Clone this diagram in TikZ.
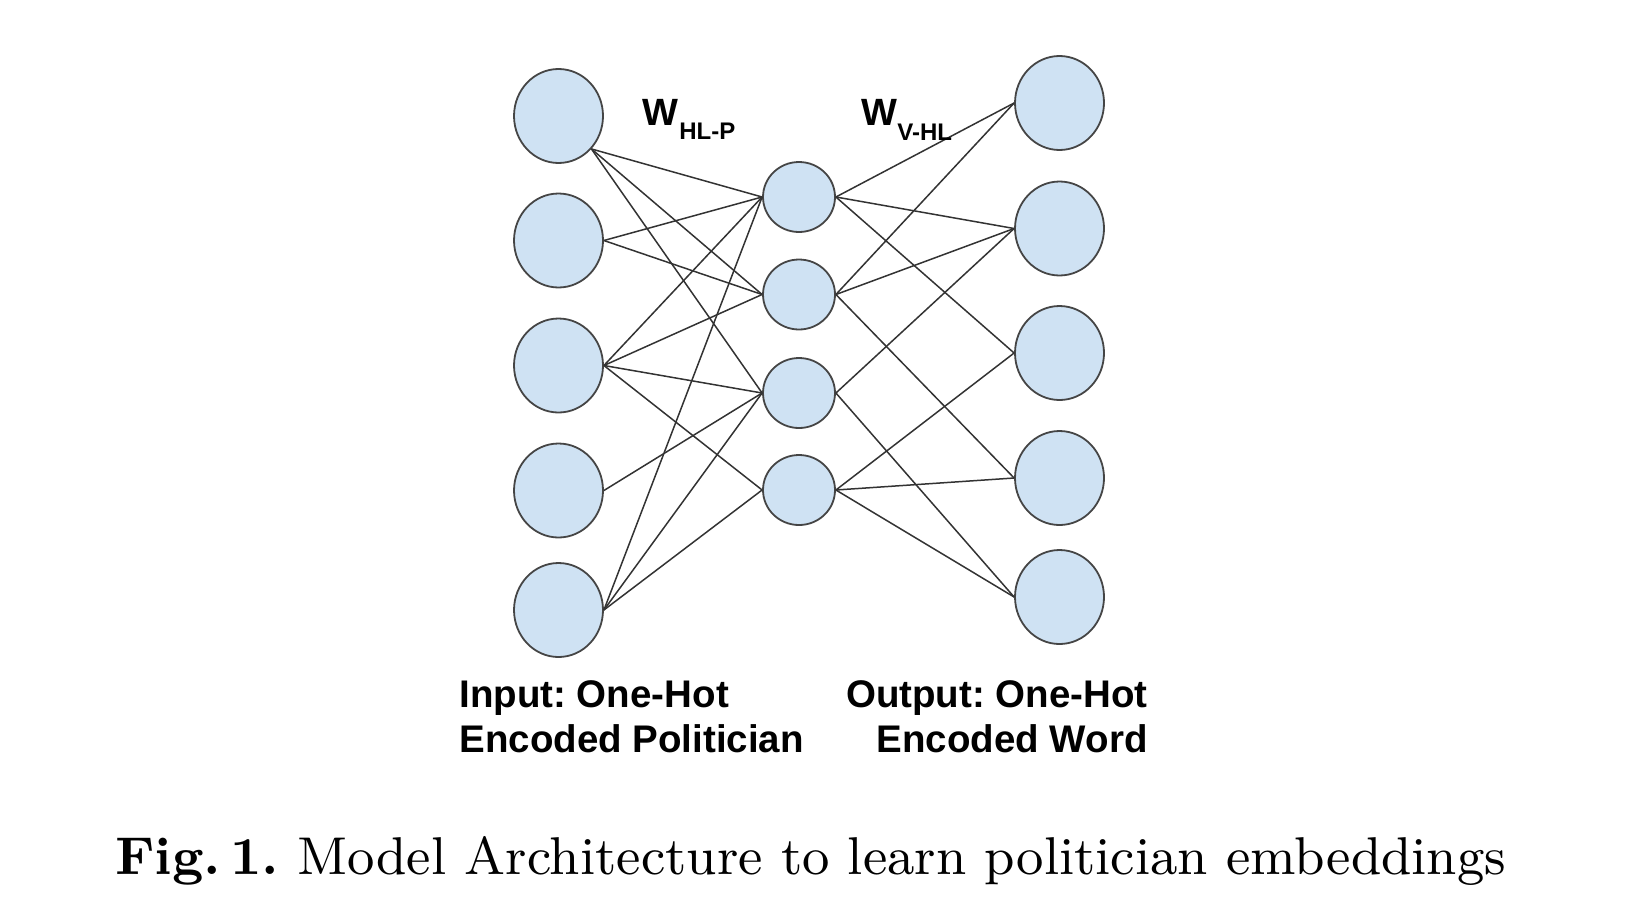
\documentclass[tikz,border=0pt]{standalone}
\usepackage{fontspec}
\newfontfamily\lsans{Liberation Sans}
\newfontfamily\capfont{lmroman9-regular}[Extension=.otf, BoldFont=lmroman9-bold]
\usetikzlibrary{shapes.geometric}
\definecolor{nodefill}{HTML}{CFE2F3}
\definecolor{nodeline}{HTML}{454545}
\definecolor{edgecol}{HTML}{333333}
\frenchspacing
\tikzset{
  bignode/.style={ellipse, draw=nodeline, fill=nodefill, line width=0.9pt, minimum width=44.5pt, minimum height=47pt, inner sep=0pt},
  smallnode/.style={ellipse, draw=nodeline, fill=nodefill, line width=0.9pt, minimum width=36pt, minimum height=35pt, inner sep=0pt},
  edge/.style={draw=edgecol, line width=0.75pt},
  lbl/.style={font=\lsans\bfseries\fontsize{19.25}{22}\selectfont\frenchspacing, inner sep=0pt},
  wlbl/.style={font=\lsans\bfseries\fontsize{19}{22}\selectfont, inner sep=0pt},
  sublbl/.style={font=\lsans\bfseries\fontsize{12}{14}\selectfont, inner sep=0pt},
  caplbl/.style={font=\capfont\fontsize{26.6}{31}\selectfont, inner sep=0pt}
}
\begin{document}
\begin{tikzpicture}[x=0.5pt,y=-0.5pt]
\useasboundingbox (0,0) rectangle (1636,916);
% input layer
\node[bignode] (L1) at (558.5,116) {};
\node[bignode] (L2) at (558.5,240.5) {};
\node[bignode] (L3) at (558.5,365.5) {};
\node[bignode] (L4) at (558.5,490.5) {};
\node[bignode] (L5) at (558.5,610) {};
% hidden layer
\node[smallnode] (M1) at (799,197) {};
\node[smallnode] (M2) at (799,294.5) {};
\node[smallnode] (M3) at (799,393) {};
\node[smallnode] (M4) at (799,490) {};
% output layer
\node[bignode] (R1) at (1059.5,103) {};
\node[bignode] (R2) at (1059.5,228.5) {};
\node[bignode] (R3) at (1059.5,353) {};
\node[bignode] (R4) at (1059.5,478) {};
\node[bignode] (R5) at (1059.5,597) {};
% left edges
\foreach \m in {M1,M2,M3} \draw[edge] (L1.-45) -- (\m.west);
\foreach \m in {M1,M2} \draw[edge] (L2.east) -- (\m.west);
\foreach \m in {M1,M2,M3,M4} \draw[edge] (L3.east) -- (\m.west);
\draw[edge] (L4.east) -- (M3.west);
\foreach \m in {M1,M3,M4} \draw[edge] (L5.east) -- (\m.west);
% right edges
\foreach \r in {R1,R2,R3} \draw[edge] (M1.east) -- (\r.west);
\foreach \r in {R1,R2,R4} \draw[edge] (M2.east) -- (\r.west);
\foreach \r in {R2,R5} \draw[edge] (M3.east) -- (\r.west);
\foreach \r in {R3,R4,R5} \draw[edge] (M4.east) -- (\r.west);
% weight labels
\node[wlbl, anchor=base west] (W1) at (642,125) {W};
\node[sublbl, anchor=base west] (W1s) at (679,139) {HL-P};
\node[wlbl, anchor=base west] (W2) at (861,125) {W};
\node[sublbl, anchor=base west] (W2s) at (897,140) {V-HL};
% layer labels
\node[lbl, anchor=base west] (in1) at (459,707) {Input: One-Hot};
\node[lbl, anchor=base west] (in2) at (459,752) {Encoded Politician};
\node[lbl, anchor=base east] (out1) at (1148,707) {Output: One-Hot};
\node[lbl, anchor=base east] (out2) at (1148,752) {Encoded Word};
% caption
\node[caplbl, anchor=base west] (cap) at (115,874) {\textbf{Fig.\,1.} Model Architecture to learn politician embeddings};
\end{tikzpicture}
\end{document}
